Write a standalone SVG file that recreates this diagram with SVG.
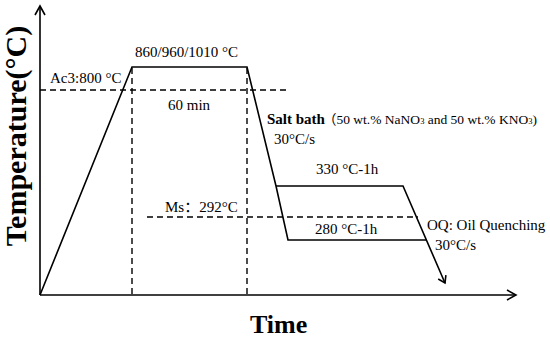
<svg xmlns="http://www.w3.org/2000/svg" width="550" height="342" viewBox="0 0 550 342">
<style>
.t{font-family:"Liberation Serif","Noto Sans CJK SC",serif;font-size:15px;fill:#000}
.b{font-weight:bold}
.s{fill:none;stroke:#000;stroke-width:1.6}
.d{fill:none;stroke:#000;stroke-width:1.4;stroke-dasharray:6 4}
.ah{fill:none;stroke:#000;stroke-width:1.6}
</style>
<rect width="550" height="342" fill="#fff"/>
<g id="axes">
<line class="s" x1="40" y1="295" x2="40" y2="6"/>
<polyline class="ah" points="35,15 40,6 45,15"/>
<line class="s" x1="40" y1="295" x2="516" y2="295"/>
<polyline class="ah" points="507,290 516,295 507,300"/>
</g>
<g id="guides">
<line class="d" x1="40" y1="90" x2="288" y2="90"/>
<line class="d" x1="132" y1="68" x2="132" y2="295"/>
<line class="d" x1="247" y1="68" x2="247" y2="295"/>
<line class="d" x1="147" y1="217" x2="418" y2="217"/>
</g>
<g id="connectors">
<polyline class="s" points="40,295 132,67 247,67 276,186 288,240 426,240"/>
<polyline class="s" points="276,186 403,186 445,283"/>
<polyline class="ah" points="438.2,279 445,283 445.9,275.2"/>
</g>
<g id="labels">
<text class="t" x="135" y="57">860/960/1010 °C</text>
<text class="t" x="50" y="83">Ac3:800 °C</text>
<text class="t" x="168" y="110">60 min</text>
<text class="t" x="267" y="124"><tspan class="b">Salt bath</tspan></text>
<text class="t" x="323" y="124" style="font-size:13.5px">（50 wt.% NaNO<tspan style="font-size:8.5px">3</tspan> and 50 wt.% KNO<tspan style="font-size:8.5px">3</tspan>)</text>
<text class="t" x="274" y="144">30°C/s</text>
<text class="t" x="316" y="174">330 °C-1h</text>
<text class="t" x="165" y="212">Ms：292°C</text>
<text class="t" x="315" y="234">280 °C-1h</text>
<text class="t" x="427" y="230">OQ: Oil Quenching</text>
<text class="t" x="435" y="250">30°C/s</text>
<text class="t b" x="250" y="333" style="font-size:26px">Time</text>
<text class="t b" transform="translate(26,136) rotate(-90)" text-anchor="middle" style="font-size:30px">Temperature(°C)</text>
</g>
</svg>
